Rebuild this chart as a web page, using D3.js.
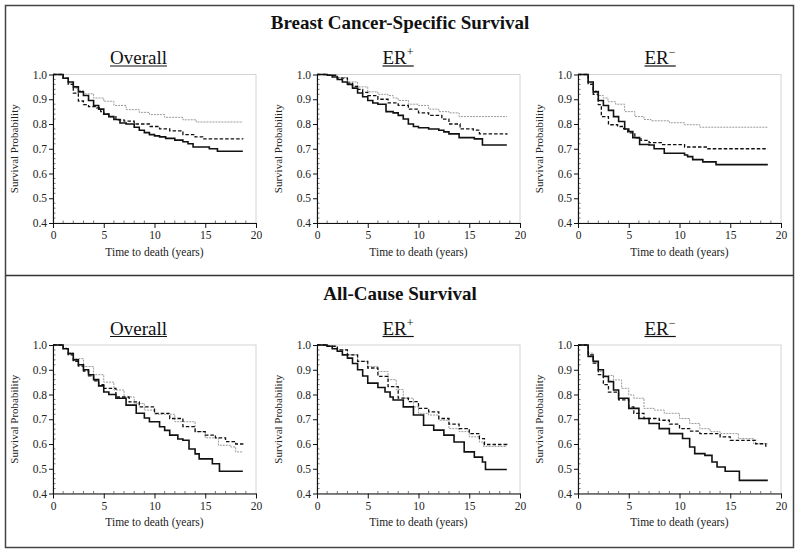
<!DOCTYPE html>
<html><head><meta charset="utf-8">
<script src="https://cdn.jsdelivr.net/npm/d3@7"></script>
<style>body{margin:0;background:#fff}svg{display:block}</style></head>
<body><svg id="c" width="800" height="554"></svg>
<script>
// ---------- data ----------
const sectionTitles = ["Breast Cancer-Specific Survival", "All-Cause Survival"];
const subgroupNames = ["Overall", "ER", "ER"];
const subgroupSup = ["", "+", "\u2212"];
const xTicks = [0, 5, 10, 15, 20];
const yTicks = [0.4, 0.5, 0.6, 0.7, 0.8, 0.9, 1.0];
const xAxisLabel = "Time to death (years)";
const yAxisLabel = "Survival Probability";
const seriesNames = ["dotted", "dashed", "solid"];

// Breast cancer-specific survival, Overall  [years, survival]
const bcssOverallSolid = [[0,1],[0.6,1],[1,0.985],[1.5,0.97],[2,0.95],[2.5,0.93],[3,0.915],[3.5,0.895],[4,0.875],[4.5,0.86],[5,0.84],[5.5,0.83],[6,0.818],[6.6,0.804],[7.2,0.8],[8,0.787],[8.5,0.775],[9,0.765],[9.5,0.757],[10,0.752],[10.5,0.748],[11.1,0.742],[12,0.735],[12.8,0.728],[13.3,0.72],[13.8,0.707],[15.4,0.7],[16.2,0.69],[18.7,0.69]];
const bcssOverallDashed = [[0,1],[0.6,1],[1,0.985],[1.5,0.96],[2,0.925],[2.5,0.893],[3,0.878],[3.5,0.87],[4.3,0.865],[4.7,0.85],[5,0.84],[5.5,0.83],[6.2,0.817],[7,0.812],[8,0.8],[9.5,0.79],[10.5,0.78],[11.5,0.772],[12.8,0.757],[14,0.748],[14.75,0.74],[18.7,0.738]];
const bcssOverallDotted = [[0,1],[0.6,1],[1,0.985],[1.5,0.965],[2,0.945],[2.5,0.935],[3,0.922],[4,0.905],[5,0.892],[6,0.875],[7.2,0.858],[8.5,0.847],[9.5,0.838],[11,0.827],[12.8,0.817],[14.1,0.808],[18.7,0.808]];
// Breast cancer-specific survival, ER+
const bcssErPosSolid = [[0,1],[0.7,1],[1,0.997],[1.5,0.99],[2,0.98],[2.5,0.97],[3,0.96],[3.5,0.945],[4,0.925],[4.5,0.91],[5,0.895],[5.5,0.885],[6,0.88],[6.8,0.85],[7.5,0.845],[8,0.835],[8.5,0.82],[9,0.8],[9.5,0.79],[10,0.785],[11,0.78],[12,0.775],[12.5,0.768],[13,0.76],[14,0.745],[15.5,0.74],[16.3,0.715],[18.7,0.715]];
const bcssErPosDashed = [[0,1],[0.7,1],[1,0.997],[2,0.985],[3,0.965],[3.5,0.952],[4,0.94],[4.5,0.928],[5,0.915],[6,0.9],[7,0.885],[8,0.875],[9,0.86],[10,0.845],[11,0.835],[12.3,0.82],[13,0.8],[14.1,0.78],[15.4,0.775],[16,0.76],[18.7,0.757]];
const bcssErPosDotted = [[0,1],[0.7,1],[1,0.998],[2,0.988],[3,0.97],[4,0.95],[5,0.93],[6,0.92],[7,0.915],[7.5,0.905],[8,0.895],[9,0.88],[10,0.875],[11,0.86],[12,0.85],[13,0.845],[14,0.83],[18.7,0.828]];
// Breast cancer-specific survival, ER-
const bcssErNegSolid = [[0,1],[0.5,1],[1,0.97],[1.5,0.93],[2,0.895],[2.5,0.875],[3,0.855],[3.5,0.83],[4,0.81],[4.6,0.78],[5,0.77],[5.4,0.745],[6.07,0.717],[7,0.715],[7.5,0.7],[8.5,0.682],[10.5,0.675],[10.8,0.668],[11.3,0.656],[12.3,0.647],[13.6,0.636],[18.7,0.636]];
const bcssErNegDashed = [[0,1],[0.5,1],[1,0.96],[1.5,0.92],[2,0.878],[2.3,0.83],[3,0.797],[3.9,0.79],[4.5,0.78],[4.9,0.764],[5.6,0.744],[6.2,0.734],[7,0.725],[8.2,0.717],[10.5,0.707],[12.8,0.7],[18.7,0.7]];
const bcssErNegDotted = [[0,1],[0.5,1],[1,0.965],[1.5,0.935],[2,0.915],[2.5,0.905],[2.95,0.89],[3.7,0.88],[4.6,0.85],[5.6,0.83],[6.5,0.818],[7.2,0.813],[9,0.805],[10.5,0.797],[12,0.787],[18.7,0.787]];
// All-cause survival, Overall
const acOverallSolid = [[0,1],[0.6,1],[1,0.985],[1.5,0.965],[2,0.94],[2.5,0.92],[3,0.9],[3.5,0.88],[4,0.86],[4.5,0.835],[5,0.81],[5.5,0.8],[6.2,0.785],[7.2,0.757],[8.2,0.724],[9,0.705],[9.5,0.69],[10.5,0.67],[11,0.655],[11.5,0.636],[12.3,0.62],[12.8,0.615],[13.4,0.58],[14,0.56],[14.4,0.54],[15.7,0.52],[16.4,0.49],[18.7,0.49]];
const acOverallDashed = [[0,1],[0.6,1],[1,0.985],[1.5,0.96],[2,0.934],[2.5,0.915],[3,0.895],[3.5,0.875],[4,0.855],[4.5,0.84],[5,0.825],[6.2,0.79],[7.5,0.77],[8.5,0.75],[10,0.724],[11.5,0.703],[12.8,0.67],[14,0.65],[15,0.636],[16,0.625],[17,0.61],[18,0.6],[18.7,0.598]];
const acOverallDotted = [[0,1],[0.6,1],[1,0.988],[1.5,0.968],[2,0.945],[3,0.913],[4,0.88],[5,0.85],[6,0.818],[7,0.79],[8,0.764],[9,0.737],[10,0.72],[12,0.69],[14,0.65],[15,0.625],[16.3,0.595],[17.5,0.588],[18,0.568],[18.7,0.568]];
// All-cause survival, ER+
const acErPosSolid = [[0,1],[0.7,1],[1,0.995],[1.5,0.985],[2,0.975],[2.5,0.96],[3,0.947],[3.5,0.925],[4,0.9],[4.5,0.875],[5,0.846],[6,0.828],[6.7,0.81],[7.2,0.79],[7.5,0.778],[8.5,0.75],[9.5,0.717],[10.5,0.676],[11.5,0.656],[12.5,0.636],[13.5,0.608],[14.5,0.568],[15.5,0.547],[16.3,0.527],[16.6,0.497],[18.7,0.497]];
const acErPosDashed = [[0,1],[0.7,1],[1,0.995],[2,0.98],[3,0.96],[4,0.934],[5,0.907],[6,0.873],[7,0.832],[8,0.785],[9,0.771],[10,0.744],[11,0.73],[12,0.703],[13,0.68],[14,0.662],[15,0.642],[16,0.622],[16.5,0.598],[18.7,0.595]];
const acErPosDotted = [[0,1],[0.7,1],[1,0.995],[2,0.98],[3,0.96],[4,0.934],[5,0.913],[6,0.893],[7,0.86],[7.8,0.82],[8.5,0.785],[9.5,0.75],[10,0.724],[11,0.717],[12,0.696],[13,0.662],[14,0.65],[15,0.629],[16,0.608],[16.4,0.59],[18.7,0.59]];
// All-cause survival, ER-
const acErNegSolid = [[0,1],[0.5,1],[1,0.954],[1.5,0.934],[2,0.9],[2.5,0.873],[3,0.852],[3.5,0.818],[4,0.785],[5,0.744],[6,0.703],[7,0.683],[8,0.662],[9,0.642],[10.3,0.622],[11,0.588],[11.5,0.561],[12.5,0.554],[13.2,0.527],[13.7,0.507],[14.5,0.49],[15.9,0.453],[18.7,0.453]];
const acErNegDashed = [[0,1],[0.5,1],[1,0.96],[1.5,0.927],[2,0.88],[2.5,0.84],[3,0.81],[4,0.778],[5,0.75],[5.5,0.724],[6.5,0.703],[8,0.696],[9,0.68],[10,0.662],[11,0.652],[12,0.642],[14,0.629],[15,0.615],[17.5,0.601],[18.5,0.592],[18.7,0.592]];
const acErNegDotted = [[0,1],[0.5,1],[1,0.967],[1.5,0.934],[2,0.893],[2.5,0.877],[3.5,0.859],[4.3,0.825],[5,0.798],[5.5,0.785],[6.5,0.744],[7.5,0.737],[8.5,0.724],[10,0.703],[11,0.683],[12,0.662],[13,0.65],[14,0.642],[15.8,0.622],[17.3,0.601],[18.7,0.601]];

const panelData = [
  [[bcssOverallDotted, bcssOverallDashed, bcssOverallSolid],
   [bcssErPosDotted, bcssErPosDashed, bcssErPosSolid],
   [bcssErNegDotted, bcssErNegDashed, bcssErNegSolid]],
  [[acOverallDotted, acOverallDashed, acOverallSolid],
   [acErPosDotted, acErPosDashed, acErPosSolid],
   [acErNegDotted, acErNegDashed, acErNegSolid]]
];

// ---------- layout / style ----------
const svg = d3.select("#c");
const FONT = "'Liberation Serif','Times New Roman',serif";
const colX = [53, 317, 578];
const pw = 203;
const rowY = [74.5, 345];
const ph = 148.5;
const titleX = [138.5, 398, 660];
const sectionY = [29, 300];
const styles = {
  solid:  {stroke: "#111", width: 1.6, dash: null},
  dashed: {stroke: "#111", width: 1.3, dash: "3.5,2"},
  dotted: {stroke: "#9a9a9a", width: 1.0, dash: "2,1"}
};

// frame
svg.append("rect").attr("x", 5.5).attr("y", 5.5).attr("width", 788).attr("height", 542)
  .attr("fill", "none").attr("stroke", "#444").attr("stroke-width", 1.5);
svg.append("line").attr("x1", 5.5).attr("x2", 793.5).attr("y1", 275.5).attr("y2", 275.5)
  .attr("stroke", "#333").attr("stroke-width", 1.5);

sectionTitles.forEach((t, r) => {
  svg.append("text").attr("x", 400).attr("y", sectionY[r]).attr("text-anchor", "middle")
    .attr("font-family", FONT).attr("font-weight", "bold").attr("font-size", 19).attr("fill", "#111").text(t);
});

panelData.forEach((row, r) => {
  row.forEach((curves, c) => {
    const x = d3.scaleLinear().domain([0, 20]).range([colX[c], colX[c] + pw]);
    const y = d3.scaleLinear().domain([0.4, 1.0]).range([rowY[r] + ph, rowY[r]]);
    const g = svg.append("g");

    // light plot frame
    g.append("rect").attr("x", x(0)).attr("y", y(1)).attr("width", x(20) - x(0)).attr("height", y(0.4) - y(1))
      .attr("fill", "none").attr("stroke", "#d4d4d4").attr("stroke-width", 1);

    // minor ticks
    const xMinor = d3.range(1, 20).filter(v => v % 5 !== 0);
    g.selectAll(".xm").data(xMinor).join("line")
      .attr("x1", d => x(d)).attr("x2", d => x(d)).attr("y1", y(0.4)).attr("y2", y(0.4) - 2.5)
      .attr("stroke", "#555").attr("stroke-width", 0.8);
    const yMinor = d3.range(0.42, 1.0, 0.02).filter(v => Math.abs(v * 10 - Math.round(v * 10)) > 0.01);
    g.selectAll(".ym").data(yMinor).join("line")
      .attr("x1", x(0)).attr("x2", x(0) + 2.5).attr("y1", d => y(d)).attr("y2", d => y(d))
      .attr("stroke", "#555").attr("stroke-width", 0.8);

    // axes
    const xa = g.append("g").attr("transform", `translate(0,${y(0.4)})`)
      .call(d3.axisBottom(x).tickValues(xTicks).tickSize(5).tickSizeOuter(0).tickPadding(3).tickFormat(d3.format("d")));
    const ya = g.append("g").attr("transform", `translate(${x(0)},0)`)
      .call(d3.axisLeft(y).tickValues(yTicks).tickSize(4).tickSizeOuter(0).tickPadding(2).tickFormat(d3.format(".1f")));
    [xa, ya].forEach(a => {
      a.select(".domain").attr("stroke", "#111").attr("stroke-width", 1.1);
      a.selectAll(".tick line").attr("stroke", "#111").attr("stroke-width", 1);
      a.selectAll(".tick text").attr("font-family", FONT).attr("font-size", 11.5).attr("fill", "#222");
    });

    // curves
    const line = d3.line().x(d => x(d[0])).y(d => y(d[1])).curve(d3.curveStepAfter);
    curves.forEach((data, i) => {
      const s = styles[seriesNames[i]];
      g.append("path").datum(data).attr("d", line).attr("fill", "none")
        .attr("stroke", s.stroke).attr("stroke-width", s.width)
        .attr("stroke-dasharray", s.dash);
    });

    // axis labels
    g.append("text").attr("x", x(10)).attr("y", y(0.4) + 32.5).attr("text-anchor", "middle")
      .attr("font-family", FONT).attr("font-size", 11.5).attr("fill", "#222").text(xAxisLabel);
    g.append("text").attr("transform", `translate(${x(0) - 35},${(y(0.4) + y(1)) / 2}) rotate(-90)`)
      .attr("text-anchor", "middle").attr("font-family", FONT).attr("font-size", 11).attr("fill", "#222").text(yAxisLabel);

    // panel title
    const tt = g.append("text").attr("x", titleX[c]).attr("y", rowY[r] - 10.5).attr("text-anchor", "middle")
      .attr("font-family", FONT).attr("font-size", 19).attr("fill", "#111");
    tt.append("tspan").text(subgroupNames[c]);
    if (subgroupSup[c]) tt.append("tspan").attr("font-size", 12).attr("dy", -8).text(subgroupSup[c]);
    const bb = tt.node().getBBox();
    g.append("line").attr("x1", bb.x).attr("x2", bb.x + bb.width)
      .attr("y1", rowY[r] - 8.5).attr("y2", rowY[r] - 8.5).attr("stroke", "#111").attr("stroke-width", 1.2);
  });
});
</script></body></html>
